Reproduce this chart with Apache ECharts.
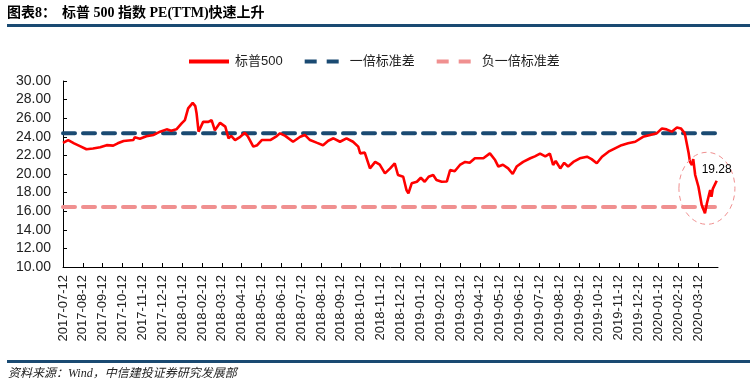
<!DOCTYPE html>
<html>
<head>
<meta charset="utf-8">
<script src="https://cdn.jsdelivr.net/npm/echarts@6/dist/echarts.min.js"></script>
<style>html,body{margin:0;padding:0;background:#fff;}#c{width:750px;height:389px;}</style>
</head>
<body>
<div id="c"></div>
<script>
const dates = ['2017-07-12','2017-07-20','2017-07-29','2017-08-07','2017-08-17','2017-08-27','2017-09-07','2017-09-17','2017-09-27','2017-10-04',
'2017-10-13','2017-10-28','2017-10-30','2017-11-07','2017-11-17','2017-11-28','2017-12-08','2017-12-18','2017-12-25','2018-01-02',
'2018-01-10','2018-01-15','2018-01-20','2018-01-27','2018-01-31','2018-02-02','2018-02-05','2018-02-12','2018-02-20','2018-02-25',
'2018-03-02','2018-03-10','2018-03-18','2018-03-23','2018-03-27','2018-04-02','2018-04-10','2018-04-17','2018-04-22','2018-04-30',
'2018-05-06','2018-05-13','2018-05-26','2018-06-05','2018-06-10','2018-06-18','2018-06-30','2018-07-11','2018-07-18','2018-07-26',
'2018-08-05','2018-08-15','2018-08-23','2018-08-31','2018-09-10','2018-09-20','2018-09-30','2018-10-08','2018-10-11','2018-10-18',
'2018-10-26','2018-11-03','2018-11-10','2018-11-18','2018-11-26','2018-12-03','2018-12-08','2018-12-16','2018-12-21','2018-12-24',
'2018-12-29','2019-01-06','2019-01-12','2019-01-18','2019-01-24','2019-01-31','2019-02-05','2019-02-13','2019-02-21','2019-02-26',
'2019-03-05','2019-03-13','2019-03-21','2019-03-28','2019-04-05','2019-04-18','2019-04-28','2019-05-06','2019-05-11','2019-05-18',
'2019-05-26','2019-06-02','2019-06-08','2019-06-18','2019-06-29','2019-07-06','2019-07-14','2019-07-22','2019-07-29','2019-08-03',
'2019-08-07','2019-08-14','2019-08-20','2019-08-26','2019-09-03','2019-09-13','2019-09-24','2019-10-01','2019-10-09','2019-10-17',
'2019-10-27','2019-11-06','2019-11-16','2019-11-26','2019-12-07','2019-12-19','2019-12-30','2020-01-09','2020-01-17','2020-01-24',
'2020-02-01','2020-02-09','2020-02-15','2020-02-21','2020-02-27','2020-02-29','2020-03-03','2020-03-05','2020-03-08','2020-03-13',
'2020-03-18','2020-03-23','2020-03-26','2020-03-31','2020-04-02','2020-04-04','2020-04-10'];
const pe = [23.35,23.65,23.3,23.0,22.66,22.75,22.87,23.1,23.05,23.3,
23.55,23.65,23.94,23.8,24.06,24.2,24.55,24.8,24.65,24.8,
25.45,25.8,27.06,27.65,27.3,26.5,24.55,25.6,25.6,25.8,
24.7,25.5,25.1,23.84,24.1,23.65,24.0,24.44,24.0,22.94,
23.1,23.65,23.65,24.08,24.37,24.1,23.47,24.0,24.2,23.65,
23.37,23.1,23.58,23.84,23.47,23.84,23.47,22.94,22.22,22.3,
20.6,21.3,21.0,20.07,20.6,21.15,19.89,19.7,18.28,17.92,
19.0,19.17,19.6,19.17,19.7,19.89,19.35,19.17,19.2,20.43,
20.3,20.97,21.3,21.2,21.69,21.69,22.22,21.5,20.8,21.0,
20.6,20.0,20.8,21.3,21.69,21.9,22.2,21.9,22.2,20.97,
21.4,20.6,21.2,20.8,21.3,21.69,21.86,21.6,21.15,21.86,
22.4,22.76,23.1,23.3,23.47,24.0,24.2,24.37,24.9,24.8,
24.55,25.0,24.9,24.37,22.22,21.3,20.97,21.6,19.89,18.63,
16.67,15.77,16.85,18.28,17.56,18.4,19.28];
const monthLabels = ['2017-07-12','2017-08-12','2017-09-12','2017-10-12','2017-11-12','2017-12-12',
'2018-01-12','2018-02-12','2018-03-12','2018-04-12','2018-05-12','2018-06-12','2018-07-12','2018-08-12','2018-09-12','2018-10-12','2018-11-12','2018-12-12',
'2019-01-12','2019-02-12','2019-03-12','2019-04-12','2019-05-12','2019-06-12','2019-07-12','2019-08-12','2019-09-12','2019-10-12','2019-11-12','2019-12-12',
'2020-01-12','2020-02-12','2020-03-12','2020-04-12'];
const plusStd = 24.38;
const minusStd = 16.45;
const xMin = '2017-07-12', xMax = '2020-04-12';
const circleCenter = ['2020-03-26', 18.46];

const RED = '#ff0000', BLUE = '#1a4a72', PINK = '#f09090';
const chart = echarts.init(document.getElementById('c'));
const lastIdx = monthLabels.length - 1;
const solidIcon = 'path://M0,0H40V4H0Z';
const dashIcon = 'path://M2,0H14V4H2Z M24,0H36V4H24Z M40,0H40V4H40Z';
const option = {
  animation: false,
  backgroundColor: '#fff',
  grid: {left: 63, right: 32, top: 81, bottom: 122},
  legend: {
    top: 50, left: 184, itemWidth: 42, itemHeight: 4, itemGap: 22,
    textStyle: {fontSize: 13, color: '#222', fontFamily: 'Liberation Sans, "Noto Sans CJK SC", sans-serif', padding: [0, 0, 0, 0]},
    data: [
      {name: '标普500', icon: solidIcon},
      {name: '一倍标准差', icon: dashIcon},
      {name: '负一倍标准差', icon: dashIcon}
    ]
  },
  xAxis: [
    {type: 'time', min: xMin, max: xMax, show: false},
    {type: 'category', data: monthLabels, boundaryGap: false, position: 'bottom',
      axisLine: {lineStyle: {color: '#000', width: 1}},
      axisTick: {inside: true, length: 4, lineStyle: {color: '#000'}, interval: (i) => i !== lastIdx},
      axisLabel: {rotate: 90, interval: (i) => i !== lastIdx, margin: 8, fontSize: 13, color: '#222',
        fontFamily: 'Liberation Sans, Arial, sans-serif'},
      splitLine: {show: false}}
  ],
  yAxis: {
    type: 'value', min: 10, max: 30, interval: 2,
    axisLine: {show: true, lineStyle: {color: '#000'}},
    axisTick: {show: true, inside: true, length: 4, lineStyle: {color: '#000'}},
    axisLabel: {formatter: (v) => v.toFixed(2), fontSize: 14, color: '#222', margin: 12,
      fontFamily: 'Liberation Sans, Arial, sans-serif'},
    splitLine: {show: false}
  },
  series: [
    {name: '标普500', type: 'line', xAxisIndex: 0, data: pe.map((v, i) => [dates[i], v]), symbol: 'none', showSymbol: false,
      lineStyle: {color: RED, width: 2.6}, itemStyle: {color: RED}, z: 5},
    {name: '一倍标准差', type: 'line', xAxisIndex: 0, data: [[xMin, plusStd], [xMax, plusStd]], symbol: 'none',
      lineStyle: {color: BLUE, width: 4, type: [12, 8], cap: 'round'}, itemStyle: {color: BLUE}, z: 3},
    {name: '负一倍标准差', type: 'line', xAxisIndex: 0, data: [[xMin, minusStd], [xMax, minusStd]], symbol: 'none',
      lineStyle: {color: PINK, width: 4, type: [12, 8], cap: 'round'}, itemStyle: {color: PINK}, z: 3}
  ],
  graphic: [
    {type: 'text', id: 'title0', left: 7, top: 6, style: {text: '图表8：',
      font: 'bold 14px "Liberation Serif", "Noto Sans CJK SC", serif', fill: '#000'}},
    {type: 'text', id: 'title', left: 62, top: 6, style: {text: '标普 500 指数 PE(TTM)快速上升',
      font: 'bold 14px "Liberation Serif", "Noto Sans CJK SC", serif', fill: '#000'}},
    {type: 'rect', id: 'rule1', shape: {x: 7, y: 24, width: 743, height: 3}, style: {fill: BLUE}},
    {type: 'rect', id: 'rule2', shape: {x: 7, y: 360, width: 743, height: 3}, style: {fill: BLUE}},
    {type: 'text', id: 'src', left: 8, top: 368, style: {text: '资料来源：Wind，中信建投证券研究发展部',
      font: 'italic 12px "Liberation Serif", "Noto Sans CJK SC", serif', fill: '#222'}}
  ]
};
chart.setOption(option);
const c = chart.convertToPixel({xAxisIndex: 0, yAxisIndex: 0}, circleCenter);
const lp = chart.convertToPixel({xAxisIndex: 0, yAxisIndex: 0}, [dates[dates.length - 1], pe[pe.length - 1]]);
chart.setOption({graphic: [
  {type: 'ellipse', id: 'circ', shape: {cx: c[0], cy: c[1], rx: 28, ry: 36},
    style: {fill: 'none', stroke: PINK, lineWidth: 1, lineDash: [5, 4]}, z: 10},
  {type: 'text', id: 'lastLbl', x: lp[0], y: lp[1] - 11, z: 11,
    style: {text: pe[pe.length - 1].toFixed(2), align: 'center', verticalAlign: 'middle',
      font: '12px "Liberation Sans", Arial, sans-serif', fill: '#000'}}
]});
</script>
</body>
</html>
